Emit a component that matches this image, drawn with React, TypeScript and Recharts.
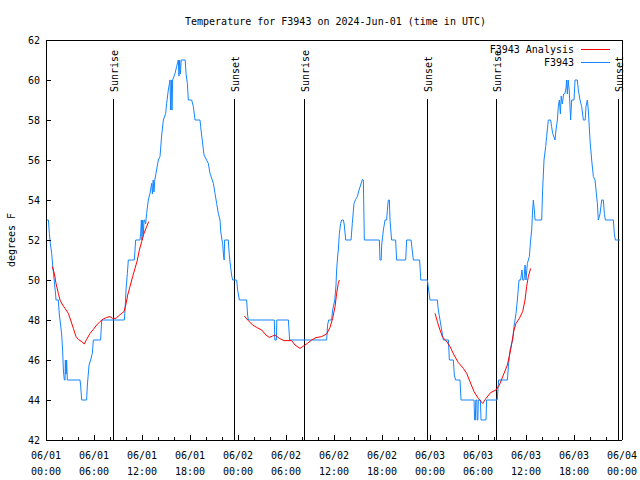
import React from "react";
import { LineChart, Line, XAxis, YAxis, ReferenceLine } from "recharts";

const FONT = '"DejaVu Sans Mono", "Liberation Mono", monospace';
const BLUE = "#1485ff";
const RED = "#ff0000";

// x axis: hours since 2024-06-01 00:00 UTC
const tickHours = [
  0, 2, 4, 6, 8, 10, 12, 14, 16, 18, 20, 22, 24, 26, 28, 30, 32, 34, 36,
  38, 40, 42, 44, 46, 48, 50, 52, 54, 56, 58, 60, 62, 64, 66, 68, 70, 72,
];
const dateLabels = ["06/01", "06/01", "06/01", "06/01", "06/02", "06/02", "06/02", "06/02", "06/03", "06/03", "06/03", "06/03", "06/04"];
const timeLabels = ["00:00", "06:00", "12:00", "18:00", "00:00", "06:00", "12:00", "18:00", "00:00", "06:00", "12:00", "18:00", "00:00"];
const yTicks = [42, 44, 46, 48, 50, 52, 54, 56, 58, 60, 62];

const sunEvents = [
  { label: "Sunrise", t: 8.4 },
  { label: "Sunset", t: 23.6 },
  { label: "Sunrise", t: 32.25 },
  { label: "Sunset", t: 47.65 },
  { label: "Sunrise", t: 56.3 },
  { label: "Sunset", t: 71.55 },
];
const sunLineTop = 59.05; // degrees, where the marker lines start

// station readings [hour, degF]
const stationF3943: [number, number][] = [
  [0.05, 53], [0.3, 53], [0.42, 52.33], [0.54, 51.83], [0.71, 51.33], [0.83, 50.75], [0.96, 50.25],
  [1.08, 49.75], [1.21, 49.25], [1.25, 49], [1.54, 49], [1.67, 48.25], [1.83, 47.75], [1.96, 47.25],
  [2.08, 46.5], [2.17, 45.5], [2.29, 45], [2.38, 45], [2.42, 46], [2.46, 45.3], [2.54, 45.3], [2.58, 46],
  [2.67, 45], [4.25, 45], [4.33, 44.75], [4.46, 44], [5.08, 44], [5.17, 44.75], [5.38, 45.75], [5.58, 46],
  [5.79, 46.33], [5.92, 47], [6.83, 47], [6.96, 48], [9.79, 48], [9.88, 48.5], [10.0, 49.5], [10.17, 50.33],
  [10.29, 51], [11.04, 51], [11.21, 52], [11.75, 52], [11.83, 52.33], [11.92, 53], [12.0, 52], [12.08, 53],
  [12.17, 52.3], [12.25, 53], [12.33, 53], [12.45, 52.8], [12.58, 53.33], [12.79, 54], [13.0, 54.33],
  [13.21, 54.83], [13.3, 54.3], [13.4, 55], [13.5, 54.4], [13.6, 55], [13.75, 55.33], [14.04, 56],
  [14.25, 56.17], [14.46, 57.25], [14.67, 58], [14.96, 58.33], [15.08, 58.83], [15.29, 59.5], [15.5, 60],
  [15.58, 58.5], [15.67, 60], [15.75, 58.5], [15.83, 60], [16.13, 60.33], [16.33, 60.67], [16.54, 61],
  [16.62, 60.2], [16.7, 61], [16.8, 60.3], [16.9, 61], [17.4, 61], [17.5, 60.33], [17.67, 59.83],
  [17.79, 59], [18.21, 59], [18.42, 58.67], [18.63, 58], [19.25, 58], [19.33, 57.67], [19.75, 56.25],
  [20.29, 55.83], [20.5, 55.33], [20.92, 54.83], [21.13, 54.33], [21.33, 53.83], [21.54, 53.33],
  [21.75, 53], [21.85, 52.4], [22.0, 52], [22.08, 51.83], [22.2, 51.2], [22.27, 51], [22.33, 52],
  [22.79, 52], [22.9, 51.3], [23.0, 50.9], [23.2, 50.25], [23.33, 50], [23.83, 50], [23.96, 49.5],
  [24.17, 49], [25.08, 49], [25.2, 48.25], [25.3, 48], [28.54, 48], [28.6, 47], [28.8, 47], [28.85, 48],
  [30.3, 48], [30.45, 47], [35.08, 47], [35.2, 47.75], [35.33, 48], [35.7, 48], [35.83, 48.5], [36.1, 49],
  [36.25, 49.75], [36.33, 50.5], [36.46, 51.2], [36.54, 51.5], [36.67, 52.33], [36.83, 52.83],
  [36.96, 53], [37.17, 53], [37.29, 52.75], [37.46, 52], [38.13, 52], [38.29, 52.83], [38.5, 53.83],
  [38.71, 54.03], [38.92, 54.17], [39.13, 54.5], [39.33, 54.75], [39.54, 55.03], [39.67, 55], [39.79, 52],
  [41.67, 52], [41.75, 51], [41.9, 51], [41.96, 51.75], [42.17, 52.5], [42.38, 53], [42.58, 53],
  [42.67, 53.5], [42.79, 54], [42.92, 54], [43.0, 53], [43.2, 52], [43.7, 52], [43.83, 51], [44.96, 51],
  [45.08, 52], [45.63, 52], [45.92, 51], [46.7, 51], [46.85, 50], [47.67, 50], [47.8, 49.6], [48.0, 49],
  [48.92, 49], [49.04, 48.5], [49.25, 48], [49.46, 47.5], [49.67, 47], [50.3, 47], [50.42, 46], [50.92, 46],
  [51.04, 45.25], [51.2, 45], [51.75, 45], [51.88, 44], [53.5, 44], [53.58, 43], [53.67, 43], [53.72, 44],
  [53.85, 44], [53.9, 43], [53.98, 43], [54.04, 44], [54.3, 44], [54.38, 43], [55.0, 43], [55.08, 44],
  [56.4, 44], [56.58, 45], [57.67, 45], [57.8, 45.67], [58.0, 46.5], [58.33, 47], [58.5, 47.67],
  [58.75, 48.33], [58.92, 49], [59.13, 50], [59.33, 50], [59.5, 50.5], [59.6, 50], [59.75, 50],
  [59.88, 50.75], [60.0, 50], [60.17, 50.83], [60.42, 51.17], [60.58, 52], [60.71, 52.5], [60.83, 53.5],
  [60.92, 54], [61.04, 53.5], [61.13, 53], [61.96, 53], [62.08, 54.5], [62.25, 56], [62.46, 56.67],
  [62.58, 57.17], [62.79, 58], [63.08, 58], [63.2, 57.67], [63.33, 57.33], [63.63, 57], [63.75, 57.5],
  [63.92, 58], [64.04, 58.67], [64.17, 59], [64.3, 58.3], [64.4, 59.2], [64.55, 58.8], [64.7, 59.3],
  [64.88, 59.33], [65.0, 59.6], [65.08, 60], [65.17, 59.3], [65.27, 60], [65.4, 59.5], [65.58, 58],
  [65.71, 59], [66.0, 59], [66.13, 60], [66.42, 60], [66.54, 59.5], [66.75, 59], [66.96, 58.67],
  [67.17, 58], [67.4, 58], [67.5, 58.67], [67.67, 59], [67.79, 58.5], [68.0, 57], [68.21, 56],
  [68.42, 55.17], [68.63, 55], [68.75, 54.5], [68.92, 53.83], [69.04, 53], [69.25, 53.3], [69.46, 54],
  [69.67, 54], [69.79, 53.33], [69.92, 53], [70.92, 53], [71.04, 52.33], [71.17, 52], [71.75, 52],
];

// analysis runs, one per 12 hour window
const analysisRun1: [number, number][] = [
  [0.79, 50.67], [1.04, 50.33], [1.25, 49.83], [1.54, 49.33], [1.75, 49], [2.08, 48.75], [2.38, 48.58],
  [2.79, 48.33], [3.08, 48], [3.42, 47.58], [3.75, 47.17], [4.04, 47.03], [4.46, 46.92], [4.79, 46.8],
  [5.08, 47.03], [5.5, 47.33], [5.92, 47.53], [6.33, 47.75], [6.75, 47.92], [7.17, 48.05], [7.58, 48.13],
  [8.0, 48.17], [8.33, 48.08], [8.75, 48.08], [9.04, 48.2], [9.46, 48.33], [9.75, 48.42], [10.0, 48.8],
  [10.21, 49.25], [10.5, 49.67], [10.83, 50.17], [11.13, 50.58], [11.42, 51], [11.67, 51.5],
  [11.96, 51.92], [12.25, 52.33], [12.58, 52.67], [12.83, 52.92],
];
const analysisRun2: [number, number][] = [
  [24.79, 48.2], [25.29, 47.97], [25.83, 47.75], [26.33, 47.63], [26.96, 47.5], [27.5, 47.25],
  [27.92, 47.13], [28.33, 47.2], [28.63, 47.25], [29.17, 47.08], [29.75, 46.97], [30.71, 46.97],
  [31.13, 46.75], [31.75, 46.58], [32.08, 46.67], [32.67, 46.83], [33.2, 47], [33.75, 47.12],
  [34.46, 47.17], [35.08, 47.3], [35.5, 47.63], [35.83, 48.08], [36.13, 48.67], [36.33, 49.33],
  [36.54, 49.83], [36.67, 50],
];
const analysisRun3: [number, number][] = [
  [48.63, 48.33], [48.92, 47.92], [49.25, 47.5], [49.58, 47.13], [50.0, 46.97], [50.5, 46.67],
  [51.0, 46.25], [51.54, 45.87], [52.17, 45.58], [52.58, 45.33], [53.0, 44.92], [53.5, 44.42],
  [54.04, 44.08], [54.58, 43.83], [55.0, 44.08], [55.58, 44.37], [56.25, 44.5], [56.67, 44.75],
  [57.17, 45.25], [57.67, 45.75], [58.08, 46.5], [58.5, 47.5], [58.75, 47.83], [59.17, 48.08],
  [59.58, 48.42], [59.88, 49], [60.08, 49.67], [60.29, 50.17], [60.58, 50.58],
];

const toPoints = (pairs: [number, number][]) => pairs.map(([t, v]) => ({ t, v }));

const stationData = toPoints(stationF3943);
// null rows break the analysis line between runs
const analysisData = [
  ...toPoints(analysisRun1),
  { t: 18, v: null },
  ...toPoints(analysisRun2),
  { t: 42, v: null },
  ...toPoints(analysisRun3),
];

const textProps = { fontFamily: FONT, fontSize: 10, fill: "#000" };

function BottomTick(props: any) {
  const { x, y, payload } = props;
  const h = payload.value;
  const major = h % 6 === 0;
  const i = h / 6;
  return (
    <g>
      <line x1={x} y1={y} x2={x} y2={y - (major ? 5 : 3)} stroke="#000" shapeRendering="crispEdges" />
      {major && (
        <text x={x} y={y} textAnchor="middle" {...textProps}>
          <tspan x={x} dy={19}>{dateLabels[i]}</tspan>
          <tspan x={x} dy={16}>{timeLabels[i]}</tspan>
        </text>
      )}
    </g>
  );
}

function TopTick(props: any) {
  const { x, y, payload } = props;
  const major = payload.value % 6 === 0;
  return <line x1={x} y1={y} x2={x} y2={y + (major ? 5 : 3)} stroke="#000" shapeRendering="crispEdges" />;
}

function LeftTick(props: any) {
  const { x, y, payload } = props;
  return (
    <g>
      <line x1={x} y1={y} x2={x + 5} y2={y} stroke="#000" shapeRendering="crispEdges" />
      <text x={x - 6} y={y} dy={3.5} textAnchor="end" {...textProps}>
        {payload.value}
      </text>
    </g>
  );
}

function RightTick(props: any) {
  const { x, y } = props;
  return <line x1={x} y1={y} x2={x - 5} y2={y} stroke="#000" shapeRendering="crispEdges" />;
}

function SunLabel(props: any) {
  const { viewBox, text } = props;
  if (!viewBox) return null;
  const x = viewBox.x + 4.5;
  const y = viewBox.y - 7;
  return (
    <text transform={`translate(${x},${y}) rotate(-90)`} textAnchor="start" {...textProps}>
      {text}
    </text>
  );
}

export default function App() {
  const frame = { stroke: "#000", shapeRendering: "crispEdges" } as any;
  return (
    <div style={{ position: "absolute", left: 0, top: 0, width: 640, height: 480, background: "#fff" }}>
      {/* axes are 1px thick so they still draw; margins make the plot 46..622 x 40..440 */}
      <LineChart width={640} height={480} margin={{ top: 39, right: 17, bottom: 39, left: 45 }}>
        <XAxis
          xAxisId="b"
          dataKey="t"
          type="number"
          domain={[0, 72]}
          ticks={tickHours}
          interval={0}
          height={1}
          tickSize={0}
          tickMargin={0}
          tickLine={false}
          axisLine={frame}
          tick={<BottomTick />}
        />
        <XAxis
          xAxisId="t"
          orientation="top"
          dataKey="t"
          type="number"
          domain={[0, 72]}
          ticks={tickHours}
          interval={0}
          height={1}
          tickSize={0}
          tickMargin={0}
          tickLine={false}
          axisLine={frame}
          tick={<TopTick />}
        />
        <YAxis
          yAxisId="l"
          type="number"
          domain={[42, 62]}
          ticks={yTicks}
          interval={0}
          width={1}
          tickSize={0}
          tickMargin={0}
          tickLine={false}
          axisLine={frame}
          tick={<LeftTick />}
        />
        <YAxis
          yAxisId="r"
          orientation="right"
          type="number"
          domain={[42, 62]}
          ticks={yTicks}
          interval={0}
          width={1}
          tickSize={0}
          tickMargin={0}
          tickLine={false}
          axisLine={frame}
          tick={<RightTick />}
        />
        {sunEvents.map((s, i) => (
          <ReferenceLine
            key={i}
            xAxisId="b"
            yAxisId="l"
            segment={[{ x: s.t, y: sunLineTop }, { x: s.t, y: 42 }]}
            stroke="#000"
            strokeWidth={1}
            shapeRendering="crispEdges"
            label={(p: any) => <SunLabel {...p} text={s.label} />}
          />
        ))}
        <Line
          xAxisId="b"
          yAxisId="l"
          data={stationData}
          dataKey="v"
          name="F3943"
          type="linear"
          stroke={BLUE}
          strokeWidth={1}
          dot={false}
          activeDot={false}
          isAnimationActive={false}
        />
        <Line
          xAxisId="b"
          yAxisId="l"
          data={analysisData}
          dataKey="v"
          name="F3943 Analysis"
          type="linear"
          stroke={RED}
          strokeWidth={1}
          dot={false}
          activeDot={false}
          isAnimationActive={false}
        />
      </LineChart>
      <svg width={640} height={480} style={{ position: "absolute", left: 0, top: 0, pointerEvents: "none" }}>
        <text x={335.5} y={25} textAnchor="middle" {...textProps}>
          Temperature for F3943 on 2024-Jun-01 (time in UTC)
        </text>
        <text transform="translate(15,240) rotate(-90)" textAnchor="middle" {...textProps}>
          degrees F
        </text>
        <text x={574} y={53} textAnchor="end" {...textProps}>F3943 Analysis</text>
        <line x1={581} y1={49.5} x2={610} y2={49.5} stroke={RED} />
        <text x={574} y={66} textAnchor="end" {...textProps}>F3943</text>
        <line x1={581} y1={62.5} x2={610} y2={62.5} stroke={BLUE} />
      </svg>
    </div>
  );
}
